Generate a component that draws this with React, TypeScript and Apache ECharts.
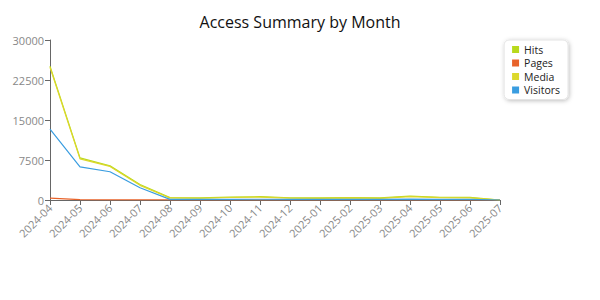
import React, { useEffect, useRef } from "react";
import * as echarts from "echarts";

const months = ["2024-04","2024-05","2024-06","2024-07","2024-08","2024-09","2024-10","2024-11","2024-12","2025-01","2025-02","2025-03","2025-04","2025-05","2025-06","2025-07"];
const hits = [25100, 7900, 6400, 2900, 450, 400, 550, 620, 420, 380, 450, 380, 720, 520, 480, 0];
const pages = [350, 60, 30, 20, 10, 10, 10, 10, 10, 10, 10, 10, 10, 10, 10, 0];
const media = [24900, 7700, 6300, 2750, 380, 330, 470, 540, 350, 320, 380, 320, 620, 440, 400, 0];
const visitors = [13300, 6200, 5300, 2300, 120, 100, 130, 140, 110, 100, 110, 100, 160, 130, 120, 0];
const yTicks = [0, 7500, 15000, 22500, 30000];

export default function App() {
  const ref = useRef<HTMLDivElement>(null);
  useEffect(() => {
    const chart = echarts.init(ref.current!, null, { renderer: "svg" });
    const font = "'Open Sans', 'Noto Sans', sans-serif";
    const mk = (name: string, data: number[], color: string) => ({
      name, type: "line", data, symbol: "none", showSymbol: false,
      lineStyle: { width: 1.2, color }, itemStyle: { color },
    });
    chart.setOption({
      animation: false,
      textStyle: { fontFamily: font },
      title: {
        text: "Access Summary by Month", left: "center", top: 9,
        textStyle: { fontSize: 16, fontWeight: "normal", color: "#111", fontFamily: font },
      },
      legend: {
        orient: "vertical", right: 32, top: 40,
        backgroundColor: "#fff", borderColor: "#e4e4e4", borderWidth: 1, borderRadius: 5,
        shadowColor: "rgba(0,0,0,0.25)", shadowBlur: 4, shadowOffsetX: 1, shadowOffsetY: 1,
        padding: [4, 8, 4, 8], itemGap: 2.5, itemWidth: 7, itemHeight: 7, icon: "rect",
        textStyle: { fontSize: 10.5, lineHeight: 10.5, color: "#222", fontFamily: font },
      },
      grid: { left: 50, right: 100, top: 40, bottom: 100 },
      xAxis: {
        type: "category", data: months, boundaryGap: false,
        axisLine: { lineStyle: { color: "#666" } },
        axisTick: { show: true, alignWithLabel: true, lineStyle: { color: "#666" } },
        axisLabel: { rotate: 45, color: "#888", fontSize: 11, interval: 0, margin: 6 },
      },
      yAxis: {
        type: "value", min: yTicks[0], max: yTicks[yTicks.length - 1], interval: 7500,
        axisLine: { show: true, lineStyle: { color: "#666" } },
        axisTick: { show: true, lineStyle: { color: "#666" } },
        splitLine: { show: false },
        axisLabel: { color: "#888", fontSize: 11, margin: 6, formatter: (v: number) => String(v) },
      },
      series: [
        mk("Hits", hits, "#b8d91c"),
        mk("Pages", pages, "#e8632a"),
        mk("Media", media, "#dcd82c"),
        mk("Visitors", visitors, "#3a9de0"),
      ],
    });
    return () => chart.dispose();
  }, []);
  return <div ref={ref} style={{ width: 600, height: 300, position: "absolute", left: 0, top: 0 }} />;
}
